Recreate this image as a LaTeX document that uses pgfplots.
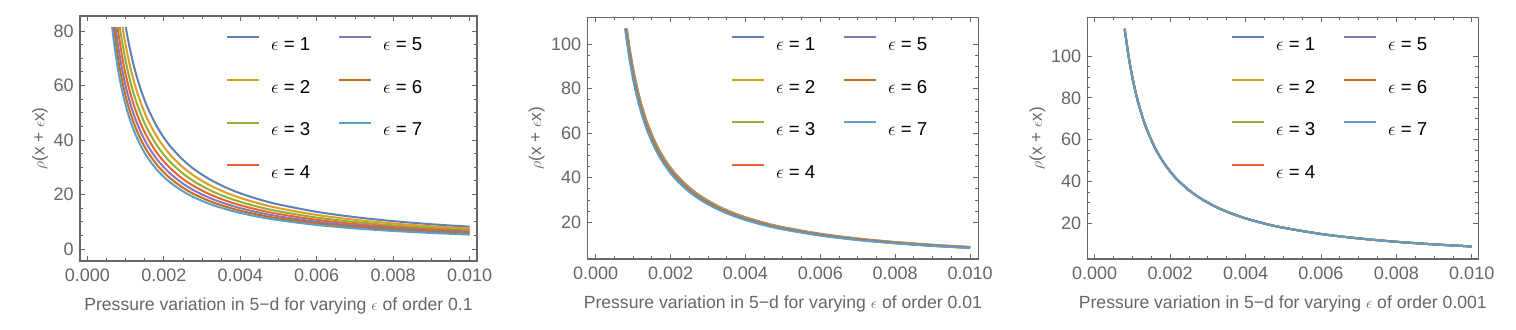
\documentclass[border=0pt]{standalone}
\usepackage{fontspec}
\setmainfont{Liberation Sans}
\usepackage{pgfplots}
\usepackage{pgfplotstable}
\pgfplotsset{compat=1.18}

% Mathematica default plot colours
\definecolor{m1}{rgb}{0.368417,0.506779,0.709798}
\definecolor{m2}{rgb}{0.880722,0.611041,0.142051}
\definecolor{m3}{rgb}{0.560181,0.691569,0.194885}
\definecolor{m4}{rgb}{0.922526,0.385626,0.209179}
\definecolor{m5}{rgb}{0.528488,0.470624,0.701351}
\definecolor{m6}{rgb}{0.772079,0.431554,0.102387}
\definecolor{m7}{rgb}{0.363898,0.618501,0.782349}
\definecolor{framegray}{gray}{0.4}

\tikzset{
  c1/.style={draw=m1, line width=1.5pt},
  c2/.style={draw=m2, line width=1.5pt},
  c3/.style={draw=m3, line width=1.5pt},
  c4/.style={draw=m4, line width=1.5pt},
  c5/.style={draw=m5, line width=1.5pt},
  c6/.style={draw=m6, line width=1.5pt},
  c7/.style={draw=m7, line width=1.5pt},
}

\newcommand{\xlabfont}{\fontsize{13.2}{15}\selectfont}
\newcommand{\ylabfont}{\fontsize{12.8}{14}\selectfont}

\pgfplotsset{
  mma/.style={
    scale only axis, anchor=south west,
    axis line style={framegray, line width=0.8pt},
    tick style={framegray, line width=0.6pt},
    tickpos=both, tick align=inside,
    major tick length=3.75pt, minor tick length=2.25pt,
    xtick={0,0.002,0.004,0.006,0.008,0.01},
    minor x tick num=3, minor y tick num=3,
    scaled x ticks=false,
    /pgf/number format/assume math mode=true,
    tick label style={font=\fontsize{13.5}{15}\selectfont, text=framegray},
    xticklabel style={/pgf/number format/fixed, /pgf/number format/fixed zerofill,
      /pgf/number format/precision=3, anchor=base, yshift=-15pt},
    yticklabel style={anchor=east, inner sep=0pt, xshift=-4.5pt},
    every axis x label/.style={at={(axis description cs:0.5,0)}, anchor=base,
      yshift=-36.75pt, font=\xlabfont, text=framegray},
    legend columns=2,
    legend cell align=left,
    legend image code/.code={
      \path[draw=none] (0pt,0pt) rectangle (24pt,10pt);
      \draw[##1] (0pt,5pt) -- (24pt,5pt);
    },
    legend style={draw=none, fill=none, inner sep=0pt, outer sep=0pt, anchor=north west,
      font=\fontsize{14}{16}\selectfont, text=black,
      nodes={inner sep=0pt, text height=10pt, text depth=0pt},
      row sep=17pt, column sep=0pt,
      /tikz/every odd column/.append style={column sep=8.25pt},
      /tikz/every even column/.append style={column sep=18.25pt}},
  },
  ylab/.style={every axis y label/.style={at={(axis description cs:0,0.5)},
      xshift=-#1, rotate=90, anchor=center, font=\ylabfont, text=framegray}},
}

\newcommand{\legendset}{%
  \addlegendimage{c1}\addlegendentry{\makebox[32pt][l]{$\epsilon$ = 1}}
  \addlegendimage{c5}\addlegendentry{\makebox[32pt][l]{$\epsilon$ = 5}}
  \addlegendimage{c2}\addlegendentry{\makebox[32pt][l]{$\epsilon$ = 2}}
  \addlegendimage{c6}\addlegendentry{\makebox[32pt][l]{$\epsilon$ = 6}}
  \addlegendimage{c3}\addlegendentry{\makebox[32pt][l]{$\epsilon$ = 3}}
  \addlegendimage{c7}\addlegendentry{\makebox[32pt][l]{$\epsilon$ = 7}}
  \addlegendimage{c4}\addlegendentry{\makebox[32pt][l]{$\epsilon$ = 4}}
}

% order 0.001: the seven curves coincide
\pgfplotstableread{
x         y
0.000793  113
0.0009    99.60
0.001     89.64
0.0011    81.49
0.0012    74.70
0.0013    68.95
0.0014    64.03
0.0016    56.03
0.0018    49.80
0.002     44.82
0.0022    40.75
0.0025    35.86
0.0028    32.01
0.0032    28.01
0.0036    24.90
0.004     22.41
0.0045    19.92
0.005     17.93
0.006     14.94
0.007     12.81
0.008     11.21
0.009     9.960
0.01      8.964
}\tabC

\begin{document}
\begin{tikzpicture}
\useasboundingbox (0,0) rectangle (1137pt,246.75pt);

% ---------- order 0.1 ----------
\begin{axis}[mma, ylab=30pt, at={(60pt,51pt)}, width=297.75pt, height=183.75pt,
  xmin=-0.000191, xmax=0.010191, ymin=-4.4, ymax=85.5,
  ytick={0,20,40,60,80},
  xlabel={Pressure variation in 5−d for varying $\epsilon$ of order 0.1},
  ylabel={$\rho$(x + $\epsilon$x)},
  legend style={at={(0.3678,0.9408)}}]
\addplot[c1, smooth, forget plot] coordinates {(0.0010039,81.5) (0.0011,74.38) (0.0012,68.18) (0.0013,62.94) (0.0014,58.44) (0.0015,54.55) (0.0016,51.14) (0.0018,45.45) (0.002,40.91) (0.0022,37.19) (0.0025,32.73) (0.0028,29.22) (0.0032,25.57) (0.0036,22.73) (0.004,20.45) (0.0045,18.18) (0.005,16.36) (0.006,13.64) (0.007,11.69) (0.008,10.23) (0.009,9.091) (0.01,8.182)};
\addplot[c2, smooth, forget plot] coordinates {(0.0009202,81.5) (0.001,75.00) (0.0011,68.18) (0.0012,62.50) (0.0013,57.69) (0.0014,53.57) (0.0015,50.00) (0.0016,46.88) (0.0018,41.67) (0.002,37.50) (0.0022,34.09) (0.0025,30.00) (0.0028,26.79) (0.0032,23.44) (0.0036,20.83) (0.004,18.75) (0.0045,16.67) (0.005,15.00) (0.006,12.50) (0.007,10.71) (0.008,9.375) (0.009,8.333) (0.01,7.500)};
\addplot[c3, smooth, forget plot] coordinates {(0.0008495,81.5) (0.0009,76.92) (0.001,69.23) (0.0011,62.94) (0.0012,57.69) (0.0013,53.25) (0.0014,49.45) (0.0015,46.15) (0.0016,43.27) (0.0018,38.46) (0.002,34.62) (0.0022,31.47) (0.0025,27.69) (0.0028,24.73) (0.0032,21.63) (0.0036,19.23) (0.004,17.31) (0.0045,15.38) (0.005,13.85) (0.006,11.54) (0.007,9.890) (0.008,8.654) (0.009,7.692) (0.01,6.923)};
\addplot[c4, smooth, forget plot] coordinates {(0.0007888,81.5) (0.0009,71.43) (0.001,64.29) (0.0011,58.44) (0.0012,53.57) (0.0013,49.45) (0.0014,45.92) (0.0015,42.86) (0.0016,40.18) (0.0018,35.71) (0.002,32.14) (0.0022,29.22) (0.0025,25.71) (0.0028,22.96) (0.0032,20.09) (0.0036,17.86) (0.004,16.07) (0.0045,14.29) (0.005,12.86) (0.006,10.71) (0.007,9.184) (0.008,8.036) (0.009,7.143) (0.01,6.429)};
\addplot[c5, smooth, forget plot] coordinates {(0.0007362,81.5) (0.0008,75.00) (0.0009,66.67) (0.001,60.00) (0.0011,54.55) (0.0012,50.00) (0.0013,46.15) (0.0014,42.86) (0.0015,40.00) (0.0016,37.50) (0.0018,33.33) (0.002,30.00) (0.0022,27.27) (0.0025,24.00) (0.0028,21.43) (0.0032,18.75) (0.0036,16.67) (0.004,15.00) (0.0045,13.33) (0.005,12.00) (0.006,10.00) (0.007,8.571) (0.008,7.500) (0.009,6.667) (0.01,6.000)};
\addplot[c6, smooth, forget plot] coordinates {(0.0006902,81.5) (0.0008,70.31) (0.0009,62.50) (0.001,56.25) (0.0011,51.14) (0.0012,46.88) (0.0013,43.27) (0.0014,40.18) (0.0015,37.50) (0.0016,35.16) (0.0018,31.25) (0.002,28.13) (0.0022,25.57) (0.0025,22.50) (0.0028,20.09) (0.0032,17.58) (0.0036,15.63) (0.004,14.06) (0.0045,12.50) (0.005,11.25) (0.006,9.375) (0.007,8.036) (0.008,7.031) (0.009,6.250) (0.01,5.625)};
\addplot[c7, smooth, forget plot] coordinates {(0.0006496,81.5) (0.0007,75.63) (0.0008,66.18) (0.0009,58.82) (0.001,52.94) (0.0011,48.13) (0.0012,44.12) (0.0013,40.72) (0.0014,37.82) (0.0015,35.29) (0.0016,33.09) (0.0018,29.41) (0.002,26.47) (0.0022,24.06) (0.0025,21.18) (0.0028,18.91) (0.0032,16.54) (0.0036,14.71) (0.004,13.24) (0.0045,11.76) (0.005,10.59) (0.006,8.824) (0.007,7.563) (0.008,6.618) (0.009,5.882) (0.01,5.294)};
\legendset
\end{axis}

% ---------- order 0.01 ----------
\begin{axis}[mma, ylab=37.9pt, at={(440.5pt,52.5pt)}, width=293.25pt, height=181.3pt,
  xmin=-0.000224, xmax=0.010222, ymin=3.5, ymax=112.1,
  ytick={20,40,60,80,100},
  xlabel={Pressure variation in 5−d for varying $\epsilon$ of order 0.01},
  ylabel={$\rho$(x + $\epsilon$x)},
  legend style={at={(0.3675,0.9454)}}]
\addplot[c1, smooth, forget plot] coordinates {(0.0008328,107) (0.0009,99.01) (0.001,89.11) (0.0011,81.01) (0.0012,74.26) (0.0013,68.55) (0.0014,63.65) (0.0016,55.69) (0.0018,49.50) (0.002,44.55) (0.0022,40.50) (0.0025,35.64) (0.0028,31.82) (0.0032,27.85) (0.0036,24.75) (0.004,22.28) (0.0045,19.80) (0.005,17.82) (0.006,14.85) (0.007,12.73) (0.008,11.14) (0.009,9.901) (0.01,8.911)};
\addplot[c2, smooth, forget plot] coordinates {(0.0008246,107) (0.0009,98.04) (0.001,88.24) (0.0011,80.21) (0.0012,73.53) (0.0013,67.87) (0.0014,63.03) (0.0016,55.15) (0.0018,49.02) (0.002,44.12) (0.0022,40.11) (0.0025,35.29) (0.0028,31.51) (0.0032,27.57) (0.0036,24.51) (0.004,22.06) (0.0045,19.61) (0.005,17.65) (0.006,14.71) (0.007,12.61) (0.008,11.03) (0.009,9.804) (0.01,8.824)};
\addplot[c3, smooth, forget plot] coordinates {(0.0008166,107) (0.0009,97.09) (0.001,87.38) (0.0011,79.44) (0.0012,72.82) (0.0013,67.21) (0.0014,62.41) (0.0016,54.61) (0.0018,48.54) (0.002,43.69) (0.0022,39.72) (0.0025,34.95) (0.0028,31.21) (0.0032,27.31) (0.0036,24.27) (0.004,21.84) (0.0045,19.42) (0.005,17.48) (0.006,14.56) (0.007,12.48) (0.008,10.92) (0.009,9.709) (0.01,8.738)};
\addplot[c4, smooth, forget plot] coordinates {(0.0008088,107) (0.0009,96.15) (0.001,86.54) (0.0011,78.67) (0.0012,72.12) (0.0013,66.57) (0.0014,61.81) (0.0016,54.09) (0.0018,48.08) (0.002,43.27) (0.0022,39.34) (0.0025,34.62) (0.0028,30.91) (0.0032,27.04) (0.0036,24.04) (0.004,21.63) (0.0045,19.23) (0.005,17.31) (0.006,14.42) (0.007,12.36) (0.008,10.82) (0.009,9.615) (0.01,8.654)};
\addplot[c5, smooth, forget plot] coordinates {(0.0008011,107) (0.0009,95.24) (0.001,85.71) (0.0011,77.92) (0.0012,71.43) (0.0013,65.93) (0.0014,61.22) (0.0016,53.57) (0.0018,47.62) (0.002,42.86) (0.0022,38.96) (0.0025,34.29) (0.0028,30.61) (0.0032,26.79) (0.0036,23.81) (0.004,21.43) (0.0045,19.05) (0.005,17.14) (0.006,14.29) (0.007,12.24) (0.008,10.71) (0.009,9.524) (0.01,8.571)};
\addplot[c6, smooth, forget plot] coordinates {(0.0007935,107) (0.0009,94.34) (0.001,84.91) (0.0011,77.19) (0.0012,70.75) (0.0013,65.31) (0.0014,60.65) (0.0016,53.07) (0.0018,47.17) (0.002,42.45) (0.0022,38.59) (0.0025,33.96) (0.0028,30.32) (0.0032,26.53) (0.0036,23.58) (0.004,21.23) (0.0045,18.87) (0.005,16.98) (0.006,14.15) (0.007,12.13) (0.008,10.61) (0.009,9.434) (0.01,8.491)};
\addplot[c7, smooth, forget plot] coordinates {(0.0007861,107) (0.0009,93.46) (0.001,84.11) (0.0011,76.47) (0.0012,70.09) (0.0013,64.70) (0.0014,60.08) (0.0016,52.57) (0.0018,46.73) (0.002,42.06) (0.0022,38.23) (0.0025,33.64) (0.0028,30.04) (0.0032,26.28) (0.0036,23.36) (0.004,21.03) (0.0045,18.69) (0.005,16.82) (0.006,14.02) (0.007,12.02) (0.008,10.51) (0.009,9.346) (0.01,8.411)};
\legendset
\end{axis}

% ---------- order 0.001 ----------
\begin{axis}[mma, ylab=37.4pt, at={(815.5pt,52.5pt)}, width=293.25pt, height=181.3pt,
  xmin=-0.000196, xmax=0.010175, ymin=2.97, ymax=118.5,
  ytick={20,40,60,80,100},
  xlabel={Pressure variation in 5−d for varying $\epsilon$ of order 0.001},
  ylabel={$\rho$(x + $\epsilon$x)},
  legend style={at={(0.3675,0.9454)}}]
\addplot[c1, smooth, forget plot] table {\tabC};
\addplot[c2, smooth, forget plot] table {\tabC};
\addplot[c3, smooth, forget plot] table {\tabC};
\addplot[c4, smooth, forget plot] table {\tabC};
\addplot[c5, smooth, forget plot] table {\tabC};
\addplot[c6, smooth, forget plot] table {\tabC};
\addplot[c7, smooth, forget plot] table {\tabC};
\legendset
\end{axis}
\end{tikzpicture}
\end{document}
